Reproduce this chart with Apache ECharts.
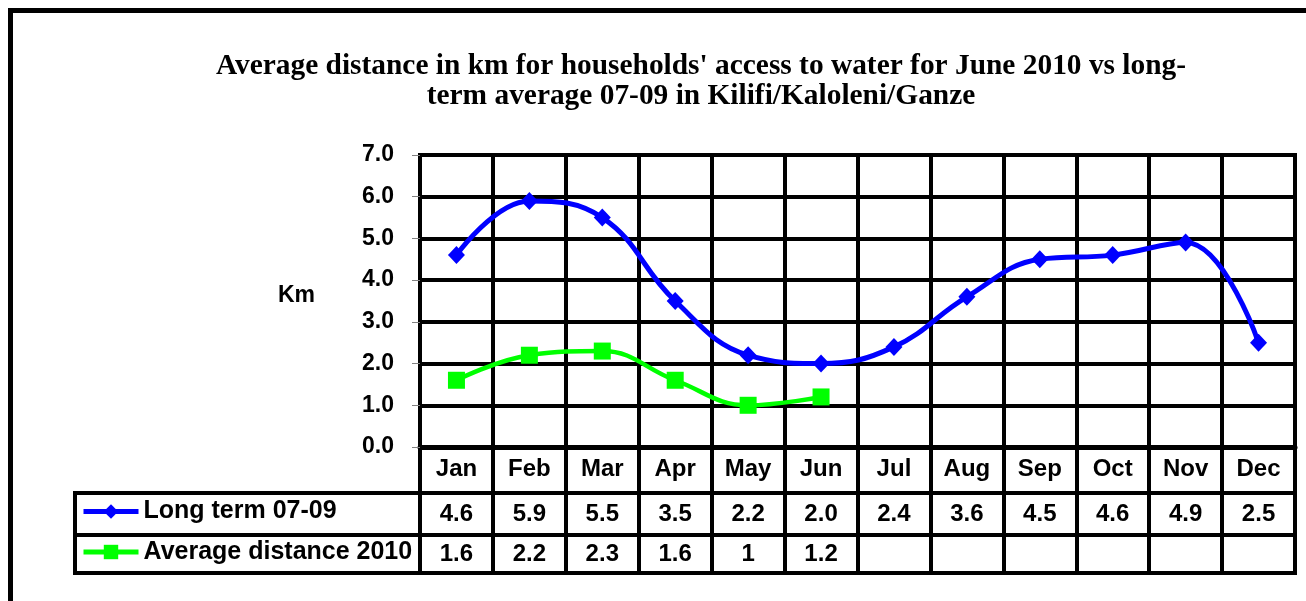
<!DOCTYPE html>
<html>
<head>
<meta charset="utf-8">
<script src="https://cdn.jsdelivr.net/npm/echarts@6/dist/echarts.min.js"></script>
<style>
html,body{margin:0;padding:0;background:#fff;}
#chart{width:1306px;height:601px;}
</style>
</head>
<body>
<div id="chart"></div>
<script>
const months = ['Jan','Feb','Mar','Apr','May','Jun','Jul','Aug','Sep','Oct','Nov','Dec'];
const longTerm = [4.6, 5.9, 5.5, 3.5, 2.2, 2.0, 2.4, 3.6, 4.5, 4.6, 4.9, 2.5];
const avg2010 = [1.6, 2.2, 2.3, 1.6, 1, 1.2];
const yTickLabels = ['0.0','1.0','2.0','3.0','4.0','5.0','6.0','7.0'];
const seriesNames = ['Long term 07-09', 'Average distance 2010'];
const titleText = "Average distance in km for households' access to water for June 2010 vs long-\nterm average 07-09 in Kilifi/Kaloleni/Ganze";

const SANS = '"Liberation Sans", Arial, sans-serif';
const SERIF = '"Liberation Serif", "Times New Roman", serif';
const BLUE = '#0000FF', GREEN = '#00FF00';

const chart = echarts.init(document.getElementById('chart'), null, {renderer: 'canvas'});

const gridBase = {show: true, borderColor: '#000', borderWidth: 4, backgroundColor: 'transparent', containLabel: false};
const grids = [
  Object.assign({left: 420, top: 155, width: 875, height: 292}, gridBase),
  Object.assign({left: 420, top: 447, width: 875, height: 46}, gridBase),
  Object.assign({left: 420, top: 493, width: 875, height: 42}, gridBase),
  Object.assign({left: 420, top: 535, width: 875, height: 38}, gridBase),
  Object.assign({left: 75, top: 493, width: 345, height: 42}, gridBase),
  Object.assign({left: 75, top: 535, width: 345, height: 38}, gridBase)
];

const tableXAxis = (gi) => ({
  gridIndex: gi, type: 'category', data: months, boundaryGap: true,
  axisLine: {show: false}, axisTick: {show: false}, axisLabel: {show: false},
  splitLine: {show: true, lineStyle: {color: '#000', width: 4}}
});

const xAxes = [
  {
    gridIndex: 0, type: 'category', data: months, boundaryGap: true,
    axisLine: {show: true, lineStyle: {color: '#000', width: 5}},
    axisTick: {show: false},
    axisLabel: {show: true, margin: 10, color: '#000', fontFamily: SANS, fontWeight: 'bold', fontSize: 24},
    splitLine: {show: true, lineStyle: {color: '#000', width: 4}}
  },
  tableXAxis(1), tableXAxis(2), tableXAxis(3),
  {gridIndex: 4, type: 'value', show: false},
  {gridIndex: 5, type: 'value', show: false}
];

const yAxes = [
  {
    gridIndex: 0, type: 'value', min: 0, max: 7, interval: 1,
    name: 'Km', nameLocation: 'middle', nameGap: 105, nameRotate: 0,
    nameTextStyle: {color: '#000', fontFamily: SANS, fontWeight: 'bold', fontSize: 23,
      verticalAlign: 'bottom', lineHeight: 10},
    axisLine: {show: true, lineStyle: {color: '#000', width: 4}},
    axisTick: {show: true, length: 8, lineStyle: {color: '#808080', width: 1}},
    axisLabel: {margin: 26, color: '#000', fontFamily: SANS, fontWeight: 'bold', fontSize: 23,
      formatter: (v, i) => yTickLabels[i]},
    splitLine: {show: true, lineStyle: {color: '#000', width: 4}}
  }
];
for (let g = 1; g <= 5; g++) {
  yAxes.push({gridIndex: g, type: 'value', min: 0, max: 1, show: false});
}

const cellLabel = {show: true, position: 'inside', color: '#000', opacity: 1,
  textBorderWidth: 0, textBorderColor: 'transparent',
  fontFamily: SANS, fontWeight: 'bold', fontSize: 24,
  formatter: p => p.data[2]};

const legendText = {color: '#000', fontFamily: SANS, fontWeight: 'bold', fontSize: 25};

const option = {
  animation: false,
  backgroundColor: '#fff',
  title: {
    text: titleText, left: 701, top: 51, textAlign: 'center', padding: 0,
    textStyle: {color: '#000', fontFamily: SERIF, fontWeight: 'bold', fontSize: 29.4, lineHeight: 30}
  },
  legend: [
    {data: [seriesNames[0]], left: 81, top: 499, padding: 0, itemWidth: 55, itemHeight: 18,
      lineStyle: {width: 5}, textStyle: legendText},
    {data: [seriesNames[1]], left: 81, top: 539.5, padding: 0, itemWidth: 55, itemHeight: 18,
      lineStyle: {width: 5}, textStyle: legendText}
  ],
  grid: grids,
  xAxis: xAxes,
  yAxis: yAxes,
  graphic: [{
    type: 'rect', shape: {x: 10.5, y: 10.5, width: 1400, height: 700}, z: -1,
    style: {fill: 'none', stroke: '#000', lineWidth: 5}
  }],
  series: [
    {
      name: seriesNames[0], type: 'line', xAxisIndex: 0, yAxisIndex: 0, data: longTerm,
      smooth: 0.42, symbol: 'diamond', symbolSize: [17, 18],
      lineStyle: {color: BLUE, width: 5}, itemStyle: {color: BLUE}, z: 5
    },
    {
      name: seriesNames[1], type: 'line', xAxisIndex: 0, yAxisIndex: 0, data: avg2010,
      smooth: 0.42, symbol: 'rect', symbolSize: 17,
      lineStyle: {color: GREEN, width: 4.5}, itemStyle: {color: GREEN}, z: 4
    },
    {
      name: 'table-lt', type: 'scatter', xAxisIndex: 2, yAxisIndex: 2,
      data: longTerm.map((v, i) => [months[i], 0.5, v.toFixed(1)]),
      symbolSize: 1, itemStyle: {color: 'rgba(0,0,0,0)'}, label: cellLabel, silent: true
    },
    {
      name: 'table-avg', type: 'scatter', xAxisIndex: 3, yAxisIndex: 3,
      data: avg2010.map((v, i) => [months[i], 0.5, String(v)]),
      symbolSize: 1, itemStyle: {color: 'rgba(0,0,0,0)'}, label: cellLabel, silent: true
    }
  ]
};
chart.setOption(option);
</script>
</body>
</html>
